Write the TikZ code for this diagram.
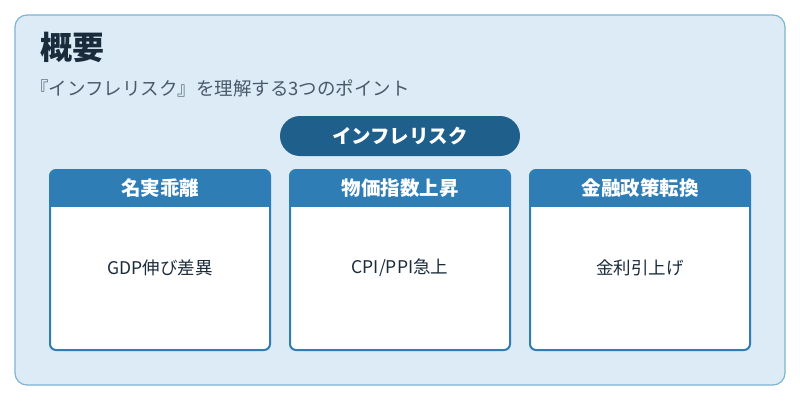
\documentclass[tikz,border=0pt]{standalone}
\usepackage{fontspec}
\setmainfont{Noto Sans CJK JP}
\definecolor{panel}{HTML}{DCEBF6}
\definecolor{pborder}{HTML}{7FB3D5}
\definecolor{pill}{HTML}{1F5F8B}
\definecolor{hdr}{HTML}{2E7DB5}
\definecolor{ttl}{HTML}{1A2B3C}
\definecolor{sub}{HTML}{4A5A6A}
\begin{document}
\begin{tikzpicture}[x=1pt,y=-1pt,
  card/.style={draw=hdr,line width=2pt,fill=white,rounded corners=6pt},
  htext/.style={text=white,font=\fontsize{19.5}{22}\selectfont\bfseries},
  btext/.style={text=ttl,font=\fontsize{17.5}{20}\selectfont}]
\useasboundingbox (0,0) rectangle (800,400);
\fill[white] (0,0) rectangle (800,400);
\draw[fill=panel,draw=pborder,line width=1.2pt,rounded corners=12pt] (15,15) rectangle (785,385);
\node[anchor=west,inner sep=0pt,text=ttl,font=\fontsize{32}{36}\selectfont\bfseries] (t) at (40,47) {概要};
\node[anchor=west,inner sep=0pt,text=sub,font=\fontsize{18.5}{20}\selectfont] (s) at (30,88) {『インフレリスク』を理解する3つのポイント};
\node[fill=pill,rounded corners=20pt,minimum width=240pt,minimum height=40pt,text=white,font=\fontsize{19.5}{22}\selectfont\bfseries] (p) at (400,136) {インフレリスク};
\foreach \x/\h/\b/\n in {50/名実乖離/GDP伸び差異/a,290/物価指数上昇/{CPI/PPI急上}/b,530/金融政策転換/金利引上げ/c}{
  \fill[white,rounded corners=6pt] (\x,170) rectangle ++(220,180);
  \begin{scope}
    \clip[rounded corners=6pt] (\x,170) rectangle ++(220,180);
    \fill[hdr] (\x,170) rectangle ++(220,37);
  \end{scope}
  \draw[hdr,line width=2pt,rounded corners=6pt] (\x,170) rectangle ++(220,180);
  \node[htext] (h\n) at (\x+110,188) {\h};
  \node[btext] (b\n) at (\x+110,268) {\b};
}
\end{tikzpicture}
\end{document}
